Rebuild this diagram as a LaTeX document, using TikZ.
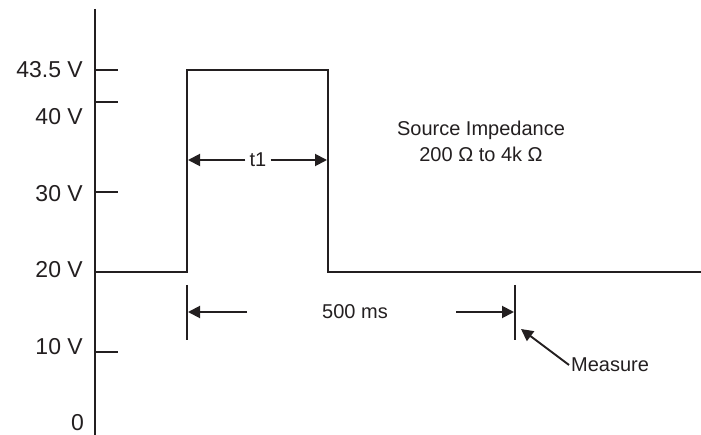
\documentclass[tikz,border=0pt]{standalone}
\usepackage{fontspec}
\setmainfont{Liberation Sans}
\usetikzlibrary{arrows.meta,positioning}
\definecolor{ink}{HTML}{231F20}

\begin{document}
\begin{tikzpicture}
	[   x=1pt,y=-1pt,
	    wave/.style={draw=ink,line width=1.9pt},
	    vlabel/.style={font=\fontsize{23}{26}\selectfont,text=ink,anchor=east,inner sep=0pt},
	    note/.style={font=\fontsize{20}{26}\selectfont,text=ink,inner sep=#1},
	    note/.default=3pt,
	]
	\tikzset{normal arrow/.style={draw=ink,line width=1.9pt,-{Triangle[length=12pt,width=12pt]}}}
	\useasboundingbox (0,0) rectangle (701,435);
	
	% axis and ticks
	\coordinate (ytop) at (95,9);
	\coordinate (ybot) at (95,435);
	\draw[wave] (ytop) -- (ybot);
	\foreach \y/\lab/\ly in {70/43.5 V/70, 102/40 V/117, 192/30 V/194, 352/10 V/347}
	{
		\coordinate (tick-\y) at (95,\y);
		\draw[wave] (tick-\y) -- ++(23,0);
		\node[vlabel] (lab-\y) at (83,\ly) {\lab};
	}
	\node[vlabel] (lab-20) at (83,270) {20 V};
	\node[vlabel] (lab-0) at (84,423) {0};
	
	% pulse
	\coordinate (p0) at (95,272);
	\coordinate (p1) at (187,272);
	\coordinate (p2) at (187,70);
	\coordinate (p3) at (328,70);
	\coordinate (p4) at (328,272);
	\coordinate (p5) at (701,272);
	\draw[wave] (p0) -- (p1) -- (p2) -- (p3) -- (p4) -- (p5);
	
	% pulse width
	\node[note=4pt] (t1) at (258,160) {t1};
	\coordinate (t1-l) at (188,160);
	\coordinate (t1-r) at (327,160);
	\path[normal arrow] (t1) -- (t1-l);
	\path[normal arrow] (t1) -- (t1-r);
	
	\node[note=0pt,align=center] (src) at (481,141) {Source Impedance\\200 Ω to 4k Ω};
	
	% measuring interval
	\coordinate (m1-top) at (187,285);
	\coordinate (m1-bot) at (187,340);
	\coordinate (m2-top) at (515,285);
	\coordinate (m2-bot) at (515,340);
	\draw[wave] (m1-top) -- (m1-bot);
	\draw[wave] (m2-top) -- (m2-bot);
	\node[note] (ms) at (355,312) {500 ms};
	\coordinate (ms-l) at (247,312);
	\coordinate (ms-r) at (456,312);
	\path[normal arrow] (ms-l) -- (188,312);
	\path[normal arrow] (ms-r) -- (514,312);
	
	\node[note=2pt,anchor=west] (measure) at (569,365) {Measure};
	\coordinate (m-tip) at (521,329);
	\path[normal arrow] (measure.west) -- (m-tip);
\end{tikzpicture}
\end{document}
